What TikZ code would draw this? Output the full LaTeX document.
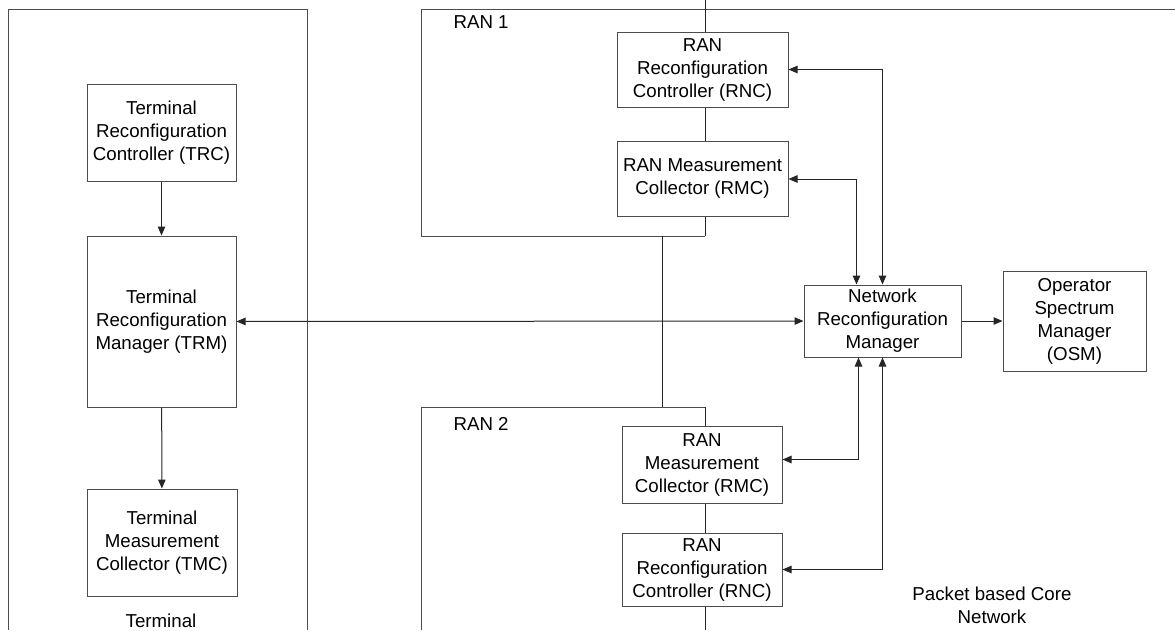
\documentclass[tikz,border=0pt]{standalone}
\usepackage{fontspec}
\setmainfont{Liberation Sans}
\usetikzlibrary{arrows.meta}

\begin{document}
\begin{tikzpicture}[x=1pt,y=-1pt,
  font=\fontsize{18.7}{23}\selectfont,
  box/.style={draw=black!70,line width=1pt,align=center,inner sep=0pt},
  frame/.style={draw=black!70,line width=1pt},
  wire/.style={draw=black!85,line width=1pt},
  arr/.style={wire,-{Triangle[length=9pt,width=7.5pt]}},
  dbl/.style={wire,{Triangle[length=9pt,width=7.5pt]}-{Triangle[length=9pt,width=7.5pt]}}]

\useasboundingbox (0,0) rectangle (1175,630);

% Terminal side, an open box that runs off the bottom edge.
\draw[frame] (8,630) -- (8,9) -- (307,9) -- (307,630);
\node[box,minimum width=149,minimum height=97] (trc) at (161.5,132.5)
  {Terminal\\Reconfiguration\\Controller (TRC)};
\node[box,minimum width=149,minimum height=171] (trm) at (161.5,321.5)
  {Terminal\\Reconfiguration\\Manager (TRM)};
\node[box,minimum width=150,minimum height=107] (tmc) at (162,542.5)
  {Terminal\\Measurement\\Collector (TMC)};
\node[anchor=base] (term) at (161,627.5) {Terminal};

\draw[arr] (trc) -- (trm);
\draw[arr] (trm) -- (tmc);

% Core network top edge and the two RAN boxes (right side is the bus).
\draw[frame] (705,9) -- (421,9) -- (421,236) -- (705,236);
\draw[frame] (705,9) -- (1175,9);
\node[anchor=base west] (ran1) at (450,28) {RAN 1};
\draw[frame] (421,630) -- (421,407) -- (705,407);
\node[anchor=base west] (ran2) at (450,430) {RAN 2};

\node[box,minimum width=171,minimum height=75] (rnc1) at (702.5,69.5)
  {RAN\\Reconfiguration\\Controller (RNC)};
\node[box,minimum width=171,minimum height=75] (rmc1) at (702.5,178.5)
  {RAN Measurement\\Collector (RMC)};
\node[box,minimum width=160,minimum height=77] (rmc2) at (702,464.5)
  {RAN\\Measurement\\Collector (RMC)};
\node[box,minimum width=160,minimum height=73] (rnc2) at (702,569.5)
  {RAN\\Reconfiguration\\Controller (RNC)};

% Bus line through the RAN units.
\coordinate (busTop) at (705,0);
\coordinate (busMid1) at (705,236);
\coordinate (link1) at (662,236);
\coordinate (link2) at (662,407);
\coordinate (busMid2) at (705,407);
\coordinate (busBot) at (705,630);
\draw[wire] (busTop) -- (busTop |- rnc1.north);
\draw[wire] (rnc1.south -| busTop) -- (rmc1.north -| busTop);
\draw[wire] (rmc1.south -| busTop) -- (busMid1);
\draw[wire] (link1) -- (link2);
\draw[wire] (busMid2) -- (rmc2.north -| busMid2);
\draw[wire] (rmc2.south -| busMid2) -- (rnc2.north -| busMid2);
\draw[wire] (rnc2.south -| busMid2) -- (busBot);

% Managers.
\node[box,minimum width=157,minimum height=72] (nrm) at (882.5,321)
  {Network\\Reconfiguration\\Manager};
\node[box,minimum width=143,minimum height=100] (osm) at (1074.5,321)
  {Operator\\Spectrum\\Manager\\(OSM)};
\node[align=center] (core) at (992,605) {Packet based Core\\Network};

\draw[dbl] (trm) -- (nrm);
\draw[arr] (nrm) -- (osm);
\draw[dbl] (rnc1.east) -| (nrm.north);
\draw[dbl] ([yshift=-0.5pt]rmc1.east) -| ([xshift=-26pt]nrm.north);
\draw[dbl] ([yshift=5pt]rmc2.east) -| ([xshift=-24pt]nrm.south);
\draw[dbl] (rnc2.east) -| (nrm.south);

\end{tikzpicture}
\end{document}
